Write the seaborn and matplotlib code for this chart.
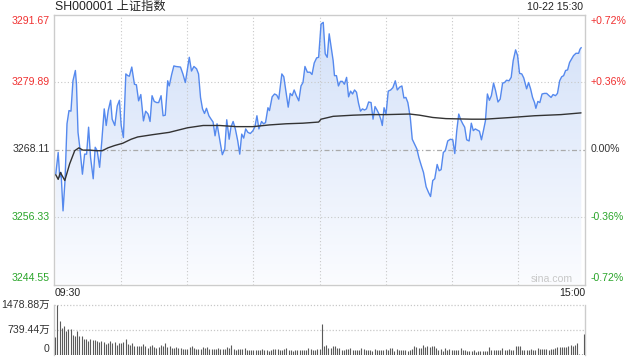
import numpy as np
import matplotlib
matplotlib.use('Agg')
import matplotlib.pyplot as plt
import seaborn as sns
from matplotlib.colors import LinearSegmentedColormap
from matplotlib.patches import Polygon

sns.set_style('white')
plt.rcParams['font.family'] = ['Liberation Sans', 'Noto Sans CJK SC', 'DejaVu Sans']

# 数据
prev_close = 3268.11
price_ticks = [3291.67, 3279.89, 3268.11, 3256.33, 3244.55]
pct_labels = ['+0.72%', '+0.36%', '0.00%', '-0.36%', '-0.72%']
vol_ticks = [1478.88, 739.44, 0]
vol_labels = ['1478.88万', '739.44万', '0']

# 分时价格 (距 09:30 的交易分钟数, 点位)
price_min = [0.3, 1.4, 2.1, 2.7, 3.6, 4.5, 5.4, 6.3, 7.2, 8.1, 9.2, 9.7, 10.4, 11.2, 12.4,
             13.4, 14.3, 15.2, 16.1, 17.3, 18.2, 19.1, 20.2, 21.2, 22.3, 23.2, 24.1, 25.2,
             25.9, 27.1, 28.2, 29.2, 30.0, 31.0, 32.1, 33.0, 33.7, 34.8, 36.0, 36.9, 37.9,
             38.9, 40.1, 41.1, 42.2, 43.1, 44.0, 45.0, 46.1, 47.0, 48.1, 49.0, 50.0, 51.1,
             51.8, 52.9, 53.9, 54.8, 56.9, 58.0, 59.1,
             60.9, 61.9, 63.0, 64.2, 65.1, 66.0, 66.9, 67.8, 68.7, 69.8, 70.8, 71.7, 72.6,
             73.5, 74.4, 75.3, 75.9, 77.0, 77.9, 79.0, 79.8, 80.8, 81.8, 82.9, 83.8, 84.7,
             85.6, 86.5, 87.5, 88.6, 89.8, 90.7, 91.6, 92.5, 93.7, 94.6, 95.5, 96.6, 97.3,
             98.5, 99.6, 100.6, 101.5, 102.9, 103.8, 104.9, 105.8, 106.7, 107.6, 108.5,
             109.5, 110.6, 111.6, 112.5, 113.4, 114.5, 115.7, 116.6, 117.6, 118.7, 119.6,
             120.7, 121.7, 122.6, 123.5, 124.4, 125.5, 126.2, 126.8, 127.7, 128.6, 129.5,
             130.4, 131.3, 132.3, 133.2, 134.1, 135.0, 135.9, 136.8, 137.7, 138.6, 139.5,
             140.4, 141.3, 142.3, 143.4, 144.3, 145.2, 146.1, 147.0, 147.9, 148.5, 149.3,
             150.2, 151.2, 152.3, 153.3, 154.4, 155.3, 156.4, 157.4, 158.3, 159.2, 160.1,
             161.2, 162.1, 163.1, 164.2, 165.1, 166.2, 167.2, 168.4, 169.5, 170.4, 171.4,
             172.3, 173.4, 174.3, 175.2, 176.2, 177.1, 178.2, 179.4, 180.5,
             181.4, 182.3, 183.2, 184.1, 185.0, 185.9, 186.8, 187.9, 188.9, 189.8, 190.7,
             191.7, 192.6, 193.5, 194.4, 195.3, 196.2, 197.1, 198.0, 199.0, 199.9, 201.0,
             202.0, 203.1, 204.0, 204.9, 206.0, 207.0, 207.9, 209.0, 209.9, 210.8, 211.8,
             212.7, 214.0, 214.9, 215.8, 216.7, 217.6, 218.2, 219.1, 220.0, 221.0, 222.1,
             223.1, 224.2, 225.1, 226.0, 227.1, 228.0, 229.0, 229.9, 230.8, 231.7, 232.6,
             233.5, 234.4, 235.3, 236.4, 237.6, 238.2, 238.8]
price = [3263.8, 3267.6, 3263.3, 3264.1, 3257.4, 3262.7, 3272.6, 3274.9, 3274.8, 3280.1,
         3281.9, 3279.5, 3271.1, 3268.5, 3263.8, 3267.3, 3267.3, 3272.0, 3266.7, 3263.0,
         3268.5, 3267.9, 3265.0, 3269.6, 3275.2, 3272.3, 3274.9, 3276.7, 3273.4, 3272.3,
         3275.7, 3276.7, 3272.3, 3270.2, 3281.3, 3281.0, 3280.9, 3282.5, 3279.5, 3279.4,
         3276.6, 3277.7, 3273.1, 3274.8, 3274.3, 3273.0, 3277.5, 3276.5, 3276.3, 3276.3,
         3277.5, 3274.0, 3274.1, 3280.1, 3279.2, 3281.2, 3282.7, 3282.6, 3282.5, 3281.3,
         3279.8,
         3284.2, 3281.8, 3282.6, 3282.2, 3281.3, 3277.2, 3275.2, 3274.4, 3275.3, 3274.0,
         3273.4, 3272.9, 3270.5, 3272.6, 3270.5, 3268.5, 3267.2, 3268.2, 3273.3, 3269.9,
         3272.0, 3273.0, 3271.7, 3269.6, 3267.3, 3270.8, 3270.1, 3271.7, 3271.1, 3270.9,
         3271.4, 3272.1, 3274.0, 3271.7, 3273.0, 3272.6, 3272.8, 3275.4, 3274.9, 3277.3,
         3277.8, 3277.6, 3276.9, 3281.3, 3280.8, 3277.9, 3275.5, 3277.9, 3277.5, 3278.5,
         3277.5, 3276.6, 3279.2, 3279.8, 3282.6, 3281.6, 3281.6, 3281.2, 3283.2, 3284.1,
         3284.2,
         3290.0, 3290.3, 3284.8, 3284.2, 3288.3, 3285.4, 3283.6, 3281.0, 3281.0, 3279.2,
         3280.0, 3280.0, 3279.5, 3280.7, 3277.3, 3278.3, 3277.8, 3278.5, 3278.1, 3276.2,
         3274.8, 3275.2, 3275.0, 3275.2, 3276.4, 3276.3, 3273.4, 3275.6, 3275.0, 3274.3,
         3273.3, 3272.3, 3275.4, 3274.3, 3278.3, 3278.5, 3278.9, 3280.1, 3278.5, 3279.0,
         3279.2, 3277.1, 3277.2, 3276.3, 3273.7, 3269.9, 3269.1, 3268.2, 3266.7, 3265.3,
         3264.1, 3261.6, 3260.6, 3259.9, 3262.7, 3263.0, 3265.5, 3264.4, 3264.6, 3267.6,
         3267.9, 3269.6, 3269.9, 3269.8,
         3267.4, 3271.4, 3274.3, 3273.3, 3272.6, 3272.0, 3269.8, 3269.6, 3272.7, 3271.4,
         3271.7, 3271.5, 3271.3, 3269.8, 3271.4, 3273.1, 3277.8, 3276.7, 3277.5, 3279.7,
         3278.4, 3276.4, 3276.9, 3279.7, 3279.8, 3280.2, 3280.1, 3280.7, 3283.6, 3285.5,
         3284.5, 3281.4, 3281.3, 3280.6, 3278.7, 3279.8, 3278.7, 3277.2, 3276.3, 3275.3,
         3276.5, 3276.3, 3277.8, 3277.9, 3277.9, 3277.5, 3277.2, 3277.7, 3277.5, 3277.9,
         3280.1, 3280.8, 3281.0, 3281.9, 3282.0, 3283.3, 3283.9, 3284.5, 3284.9, 3284.9,
         3285.6, 3285.9]

# 均价线
avg_min = [0.3, 1.4, 2.4, 4.4, 6.6, 8.9, 10.8, 12.6, 15.7, 18.7, 21.4, 24.0, 27.0, 30.7,
           34.5, 37.5, 44.3, 51.8, 60.1, 67.2, 74.7, 82.3, 89.8, 97.3, 104.9, 112.4,
           119.6, 120.7, 126.2, 135.3, 142.8, 150.3, 160.9, 165.4, 171.4, 177.4, 188.9,
           195.0, 207.0, 217.6, 229.6, 238.7]
avg_price = [3263.7, 3262.9, 3264.1, 3262.7, 3265.6, 3267.9, 3268.4, 3268.0, 3268.0,
             3267.9, 3267.9, 3268.4, 3268.8, 3269.2, 3269.9, 3270.3, 3270.7, 3271.1,
             3271.9, 3272.3, 3272.3, 3272.1, 3272.1, 3272.4, 3272.6, 3272.7, 3272.9,
             3273.4, 3273.9, 3274.1, 3274.2, 3274.2, 3274.3, 3274.1, 3273.7, 3273.5,
             3273.4, 3273.4, 3273.7, 3274.0, 3274.2, 3274.5]

# 成交量 (万, 每分钟 09:30-11:30, 13:01-15:00)
vol_am = [532, 1479, 996, 799, 868, 720, 769, 759, 601, 572, 710, 552, 552, 463, 463,
          414, 463, 444, 444, 414, 385, 414, 394, 325, 355, 404, 355, 385, 296, 355,
          365, 394, 473, 316, 286, 355, 266, 256, 256, 256, 325, 266, 217, 256, 296,
          227, 217, 227, 286, 276, 345, 237, 256, 207, 207, 237, 217, 207, 187, 187,
          187, 237, 256, 207, 177, 187, 177, 237, 207, 227, 187, 187, 187, 177, 217,
          187, 187, 187, 237, 217, 296, 177, 158, 187, 187, 177, 197, 158, 148, 138,
          158, 148, 158, 138, 168, 148, 148, 128, 158, 168, 177, 168, 148, 138, 177,
          197, 138, 138, 128, 138, 138, 138, 158, 158, 148, 197, 177, 148, 148, 168,
          177]
vol_pm = [907, 256, 286, 197, 197, 256, 256, 197, 197, 148, 158, 177, 177, 197, 148,
          148, 148, 148, 197, 177, 148, 148, 148, 118, 177, 148, 148, 148, 148, 177,
          148, 197, 197, 128, 177, 148, 148, 148, 148, 128, 148, 177, 256, 227, 197,
          197, 286, 227, 256, 227, 256, 256, 197, 148, 177, 108, 197, 158, 177, 148,
          148, 148, 148, 197, 148, 148, 128, 128, 128, 148, 99, 118, 118, 118, 118,
          118, 227, 148, 148, 148, 148, 148, 197, 148, 148, 177, 148, 148, 256, 256,
          256, 148, 148, 148, 148, 177, 148, 148, 197, 177, 177, 177, 177, 148, 177,
          177, 197, 227, 227, 227, 227, 227, 256, 286, 256, 286, 345, 30, 20, 611]
volume = vol_am + vol_pm
vol_min = np.arange(len(volume))

W, H = 640, 360
fig = plt.figure(figsize=(6.4, 3.6), dpi=100)
ax = fig.add_axes([54 / W, 1 - 284.5 / H, 531 / W, 270 / H])
axv = fig.add_axes([54 / W, 1 - 355 / H, 531 / W, 50 / H])

xlo, xhi = -0.5, 240.5
ylo, yhi = price_ticks[-1], price_ticks[0]

# 渐变填充
verts = [(price_min[0], ylo)] + list(zip(price_min, price)) + [(price_min[-1], ylo)]
poly = Polygon(verts, closed=True, facecolor='none', edgecolor='none')
ax.add_patch(poly)
cmap = LinearSegmentedColormap.from_list('fill', ['#d2e0f8', '#fbfcff'])
grad = np.linspace(0, 1, 256).reshape(-1, 1)
im = ax.imshow(grad, cmap=cmap, aspect='auto', extent=[xlo, xhi, ylo, yhi],
               origin='upper', zorder=1, interpolation='bilinear')
im.set_clip_path(poly)

# 网格
for t in [30, 60, 90, 120, 150, 180, 210]:
    ax.axvline(t, color='#c8c8c8', lw=0.8, ls=(0, (1, 2)), zorder=2)
for p in [price_ticks[1], price_ticks[3]]:
    ax.axhline(p, color='#c8c8c8', lw=0.8, ls=(0, (1, 2)), zorder=2)
ax.axhline(prev_close, color='#aaaaaa', lw=0.9, ls=(0, (4, 2, 1, 2)), zorder=2)

sns.lineplot(x=price_min, y=price, ax=ax, color='#5589ee', lw=1.0, sort=False,
             estimator=None, zorder=3)
sns.lineplot(x=avg_min, y=avg_price, ax=ax, color='#333333', lw=1.0, sort=False,
             estimator=None, zorder=4)

ax.set_xlim(xlo, xhi)
ax.set_ylim(ylo, yhi)
ax.set_xticks([])
ax.set_yticks([])
ax.set_xlabel('')
ax.set_ylabel('')
for s in ax.spines.values():
    s.set_color('#cccccc')
    s.set_linewidth(1)

colors = ['#f03030', '#f03030', '#333333', '#2aa52a', '#2aa52a']
vas = ['top', 'center', 'center', 'center', 'bottom']
tr = ax.get_yaxis_transform()
for p, lab, c, va in zip(price_ticks, pct_labels, colors, vas):
    off = -0.3 if va == 'top' else (0.3 if va == 'bottom' else 0)
    ax.text(-0.008, p + off, f'{p:.2f}', transform=tr, ha='right', va=va,
            fontsize=7.6, color=c)
    ax.text(1.01, p + off, lab, transform=tr, ha='left', va=va, fontsize=7.6, color=c)

ax.text(0.977, 0.021, 'sina.com', transform=ax.transAxes, ha='right', va='center',
        fontsize=7.6, color='#c8c8c8')

# 成交量
axv.vlines(vol_min, 0, volume, color='#5a5a5a', lw=0.8, zorder=3)
axv.set_xlim(xlo, xhi)
axv.set_ylim(0, vol_ticks[0])
axv.set_xticks([])
axv.set_yticks([])
for v in vol_ticks[:2]:
    axv.axhline(v, color='#c8c8c8', lw=0.9, ls=(0, (1, 1.5)), zorder=1, clip_on=False)
for k in ['top', 'bottom']:
    axv.spines[k].set_visible(False)
for k in ['left', 'right']:
    axv.spines[k].set_color('#cccccc')
    axv.spines[k].set_linewidth(1)
trv = axv.get_yaxis_transform()
for v, lab in zip(vol_ticks, vol_labels):
    axv.text(-0.008, v + (40 if v == 0 else 0), lab, transform=trv, ha='right',
             va='bottom' if v == 0 else 'center', fontsize=7.6, color='#333333')

# 标题与时间
fig.text(55 / W, 1 - 7 / H, 'SH000001 上证指数', ha='left', va='center',
         fontsize=8.8, color='#222222')
fig.text(583 / W, 1 - 7 / H, '10-22 15:30', ha='right', va='center',
         fontsize=7.6, color='#222222')
fig.text(55 / W, 1 - 293 / H, '09:30', ha='left', va='center', fontsize=7.6,
         color='#222222')
fig.text(585 / W, 1 - 293 / H, '15:00', ha='right', va='center', fontsize=7.6,
         color='#222222')

fig.savefig('out.png', dpi=100, facecolor='white')
